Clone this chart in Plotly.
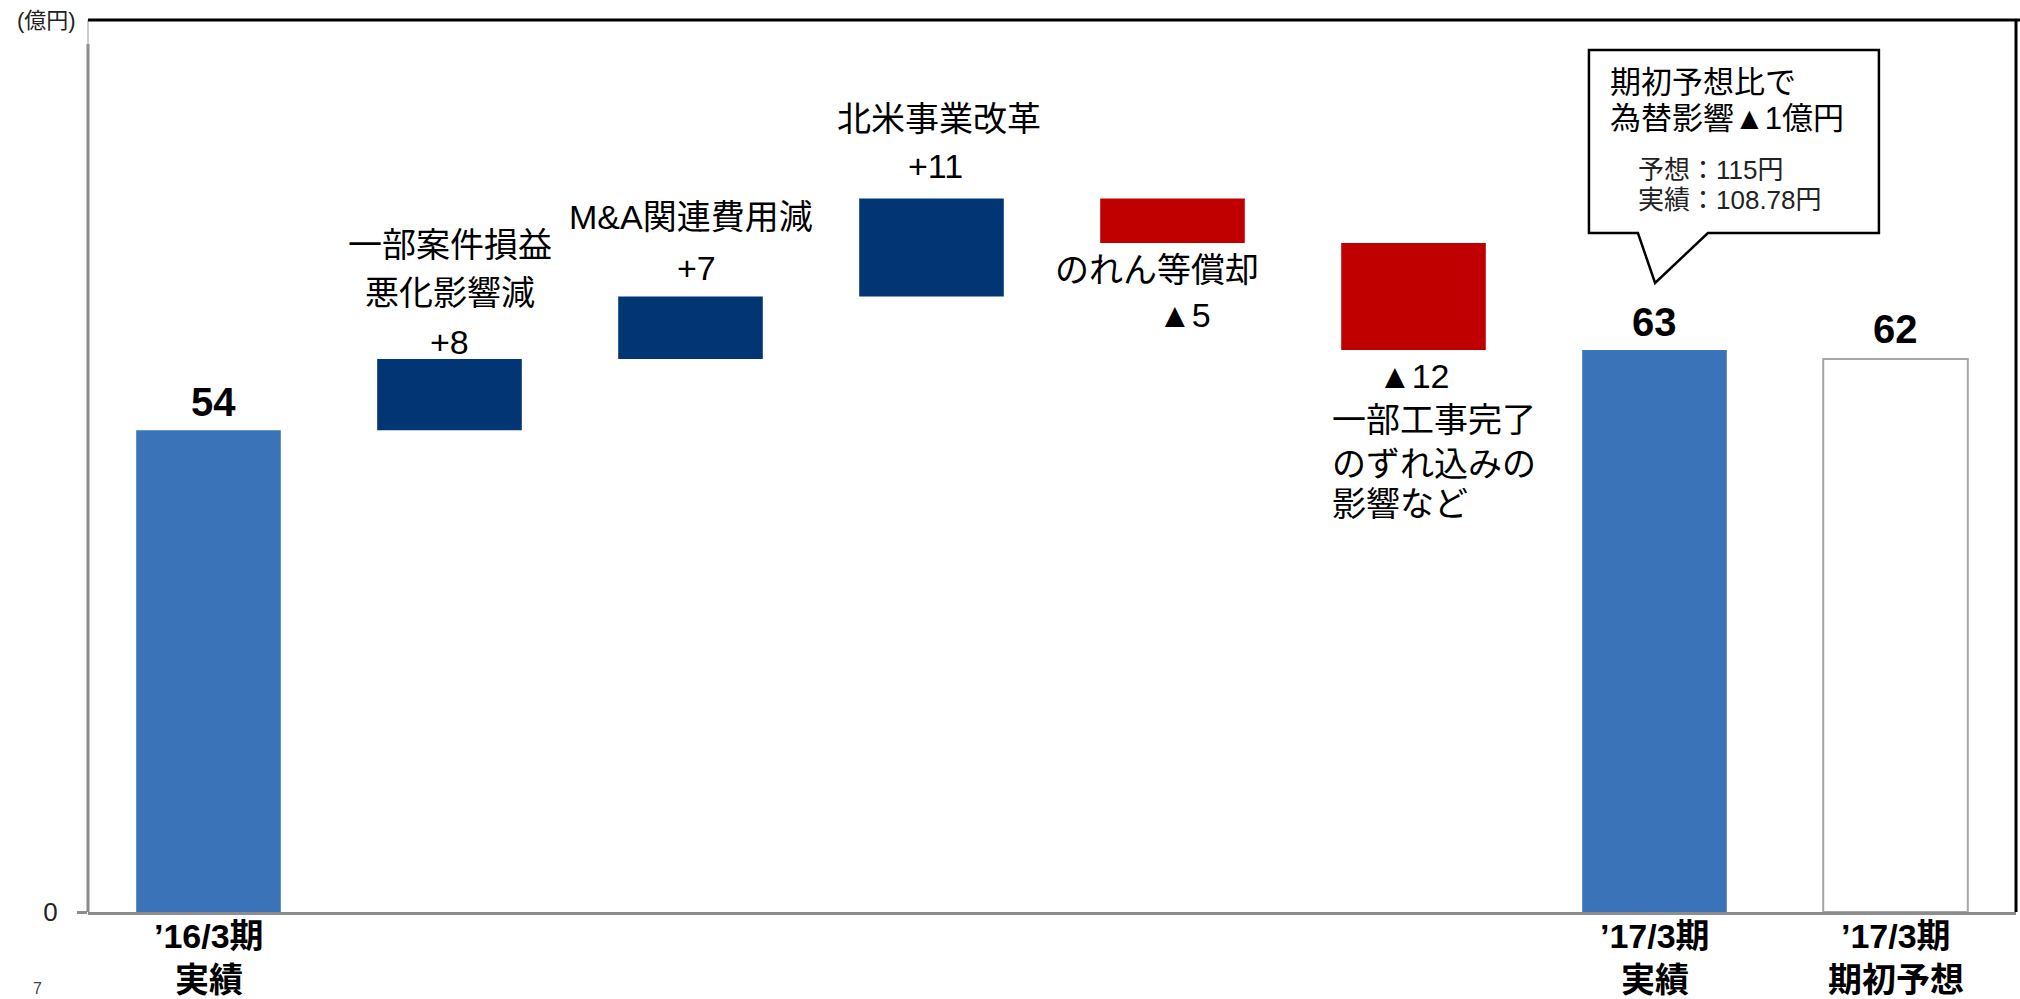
import numpy as np
import plotly.graph_objects as go

# ---- data ----
categories = [
    "’16/3期 実績",
    "一部案件損益悪化影響減",
    "M&A関連費用減",
    "北米事業改革",
    "のれん等償却",
    "一部工事完了のずれ込みの影響など",
    "’17/3期 実績",
    "’17/3期 期初予想",
]
start_value = 54
step_values = [8, 7, 11, -5, -12]
forecast_value = 62

tick_categories = [categories[0], categories[6], categories[7]]
tick_labels = [["’16/3期", "実績"], ["’17/3期", "実績"], ["’17/3期", "期初予想"]]

step_titles = [
    ["一部案件損益", "悪化影響減"],
    ["M&A関連費用減"],
    ["北米事業改革"],
    ["のれん等償却"],
    [],
]
step12_note = ["一部工事完了", "のずれ込みの", "影響など"]

callout_lines = ["期初予想比で", "為替影響▲1億円"]
callout_rates = ["予想：115円", "実績：108.78円"]

# ---- derived levels ----
steps = np.array(step_values)
after = start_value + np.cumsum(steps)
before = after - steps
result_value = int(after[-1])

step_cats = categories[1:6]
pos = steps > 0
neg = ~pos

def step_text(v):
    return f"+{v}" if v > 0 else f"▲{abs(v)}"

# ---- styles ----
FONT = "Liberation Sans, DejaVu Sans, Noto Sans CJK JP, sans-serif"
BLUE = "#3A73B8"
NAVY = "#023574"
RED = "#C00000"
AXIS_GRAY = "#8C8C8C"
BAR_W = 0.6
LABEL_SIZE = 34

fig = go.Figure()

fig.add_trace(go.Bar(
    x=[categories[0], categories[6]], y=[start_value, result_value],
    marker=dict(color=BLUE, line=dict(width=0)), width=BAR_W,
))
fig.add_trace(go.Bar(
    x=[c for c, p in zip(step_cats, pos) if p],
    y=steps[pos], base=before[pos],
    marker=dict(color=NAVY, line=dict(width=0)), width=BAR_W,
))
fig.add_trace(go.Bar(
    x=[c for c, n in zip(step_cats, neg) if n],
    y=-steps[neg], base=after[neg],
    marker=dict(color=RED, line=dict(width=0)), width=BAR_W,
))
fig.add_trace(go.Bar(
    x=[categories[7]], y=[forecast_value],
    marker=dict(color="white", line=dict(color="#A6A6A6", width=2)), width=BAR_W,
))

ann = []

# category labels under the axis (two lines each)
for cat, lines in zip(tick_categories, tick_labels):
    for line, dy in zip(lines, [-24, -68]):
        ann.append(dict(x=cat, xref="x", yref="paper", y=0, text=f"<b>{line}</b>",
                        showarrow=False, xanchor="center", yanchor="middle", yshift=dy,
                        font=dict(family=FONT, size=34, color="black")))

# bold value labels over the level bars
for cat, val, dx, dy in [(categories[0], start_value, 5, 28),
                         (categories[6], result_value, 0, 28),
                         (categories[7], forecast_value, 0, 30)]:
    ann.append(dict(x=cat, y=val, text=f"<b>{val}</b>", showarrow=False,
                    xanchor="center", yanchor="middle", xshift=dx, yshift=dy,
                    font=dict(family=FONT, size=40, color="black")))

# step labels: titles and amounts placed off the outer edge of each step bar
title_shifts = [[114, 66], [80], [79], [-27], []]
title_dx = [[0, 0], [0], [7], [-16], []]
amount_shift = [17, 29, 32, -72, -26]
amount_dx = [0, 6, 4, 12, 0]
for i, (cat, v, lvl) in enumerate(zip(step_cats, step_values, after)):
    for line, dy, dx in zip(step_titles[i], title_shifts[i], title_dx[i]):
        ann.append(dict(x=cat, y=lvl, text=line, showarrow=False,
                        xanchor="center", yanchor="middle", xshift=dx, yshift=dy,
                        font=dict(family=FONT, size=LABEL_SIZE, color="black")))
    ann.append(dict(x=cat, y=lvl, text=step_text(v), showarrow=False,
                    xanchor="center", yanchor="middle", xshift=amount_dx[i],
                    yshift=amount_shift[i],
                    font=dict(family=FONT, size=LABEL_SIZE, color="black")))

for line, dy in zip(step12_note, [-70, -114, -154]):
    ann.append(dict(x=step_cats[4], y=after[4], text=line, showarrow=False,
                    xanchor="left", yanchor="middle", xshift=-84, yshift=dy,
                    font=dict(family=FONT, size=LABEL_SIZE, color="black")))

# callout text
for line, yy in zip(callout_lines, [0.9294, 0.8901]):
    ann.append(dict(xref="paper", yref="paper", x=0.7885, y=yy, text=line,
                    showarrow=False, xanchor="left", yanchor="middle",
                    font=dict(family=FONT, size=31, color="black")))
for line, yy in zip(callout_rates, [0.8318, 0.7982]):
    ann.append(dict(xref="paper", yref="paper", x=0.8030, y=yy, text=line,
                    showarrow=False, xanchor="left", yanchor="middle",
                    font=dict(family=FONT, size=26, color="#222222")))

# unit label
ann.append(dict(xref="paper", yref="paper", x=0, y=1, text="(億円)", showarrow=False,
                xanchor="right", yanchor="middle", xshift=-10,
                font=dict(family=FONT, size=22, color="#222222")))
# page number at the bottom edge
ann.append(dict(xref="paper", yref="paper", x=-0.026, y=0, text="7", showarrow=False,
                xanchor="center", yanchor="top", yshift=-66,
                font=dict(family=FONT, size=16, color="#444444")))

shapes = [
    # y-axis line
    dict(type="line", xref="paper", yref="y", x0=0, x1=0, y0=0, y1=97.3,
         line=dict(color=AXIS_GRAY, width=3), layer="above"),
    dict(type="line", xref="paper", yref="paper", x0=0, x1=0, y0=0.97, y1=1,
         line=dict(color="#9A9A9A", width=1), layer="above"),
    # frame top and right
    dict(type="line", xref="paper", yref="paper", x0=0, x1=1.003, y0=1, y1=1,
         line=dict(color="black", width=3), layer="above"),
    dict(type="line", xref="paper", yref="paper", x0=1, x1=1, y0=0, y1=1,
         line=dict(color="black", width=3), layer="above"),
    # callout bubble
    dict(type="path", xref="paper", yref="paper",
         path=("M 0.7785 0.9664 L 0.9289 0.9664 L 0.9289 0.7612 L 0.8402 0.7612 "
               "L 0.8128 0.7052 L 0.8039 0.7612 L 0.7785 0.7612 Z"),
         line=dict(color="black", width=2.5), fillcolor="white", layer="above"),
]

fig.update_layout(
    width=2020, height=999,
    margin=dict(l=88, r=4, t=20, b=87),
    paper_bgcolor="white", plot_bgcolor="white",
    barmode="overlay", showlegend=False,
    annotations=ann, shapes=shapes,
    xaxis=dict(
        type="category", categoryorder="array", categoryarray=categories,
        range=[-0.5, len(categories) - 0.5],
        showticklabels=False,
        showline=True, linecolor=AXIS_GRAY, linewidth=3,
        ticks="", showgrid=False, zeroline=False, automargin=False,
    ),
    yaxis=dict(
        range=[0, 100], tickmode="array", tickvals=[0], ticktext=["0"],
        tickfont=dict(family=FONT, size=26, color="#222222"),
        ticks="outside", ticklen=10, tickwidth=3, tickcolor=AXIS_GRAY,
        ticklabelstandoff=14,
        showline=False, showgrid=False, zeroline=False, automargin=False,
    ),
)

fig.write_html("out.html")
